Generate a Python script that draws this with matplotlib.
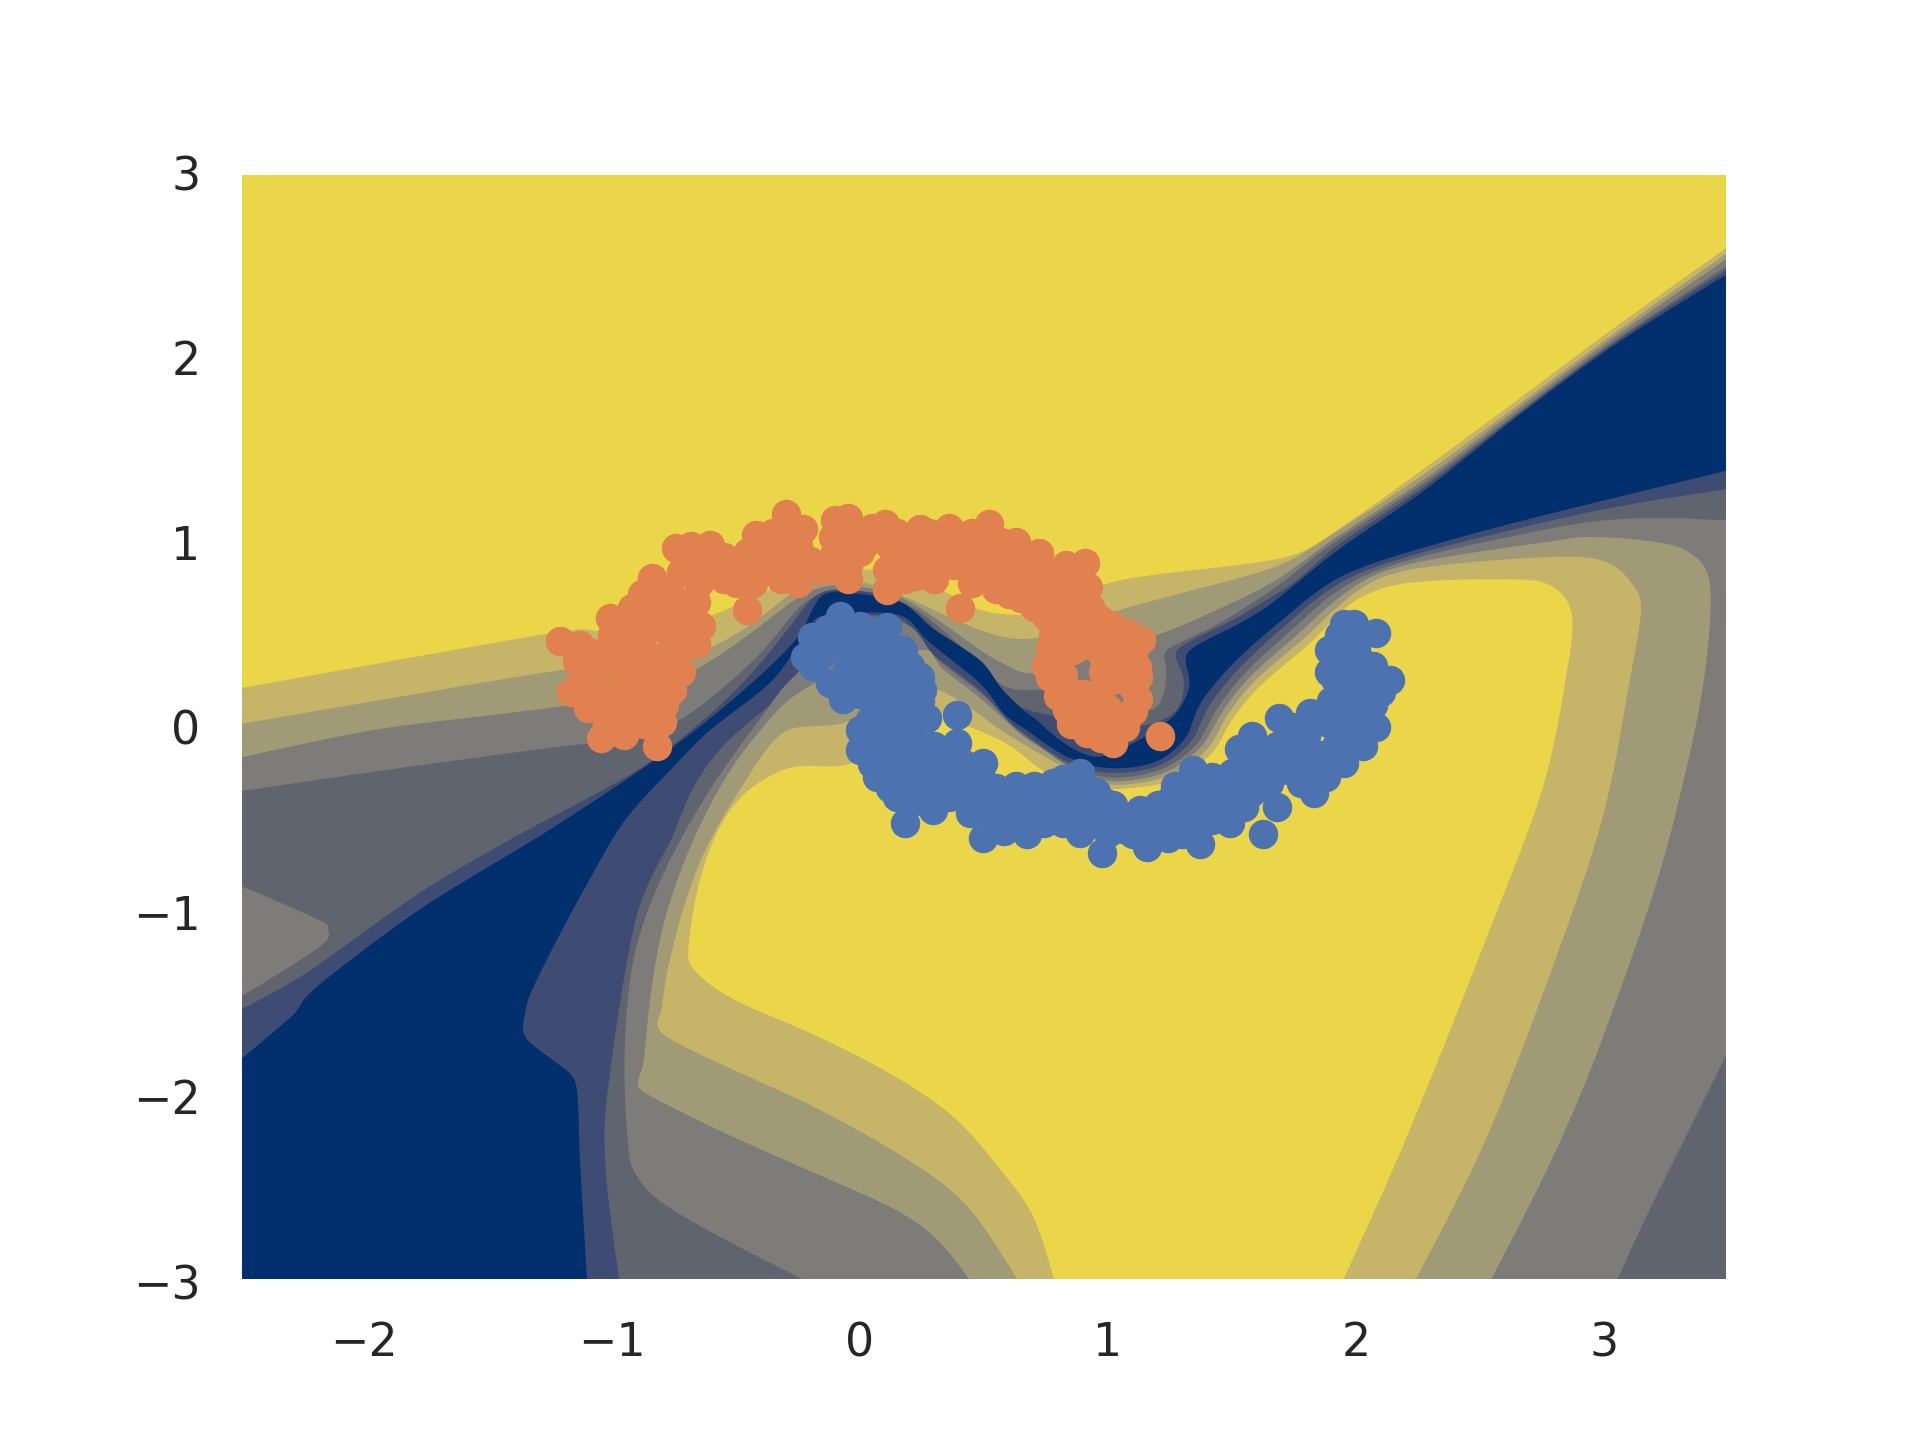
import numpy as np
import matplotlib
matplotlib.use("Agg")
import matplotlib.pyplot as plt
from matplotlib.patches import Rectangle

YELLOW = "#EBD64A"
TAN = "#C6B468"
KHAKI = "#A09A76"
GRAY = "#7E7C78"
SLATE = "#60646F"
NAVY = "#3E4C74"
DARK = "#02306F"
ORANGE = "#E0814F"
BLUE = "#4C72B0"

# contour bands above the ridge, each the top edge of a region
upper_tan = [(-2.5,.21),(-1.244,.51),(-1.06,.52),(-.645,.58),(-.215,.833),(.05,.85),(.28,.78),(.484,.634),(.75,.62),(1.0,.78),(1.344,.85),(1.72,.92),(1.927,1.07),(2.275,1.40),(2.62,1.74),(3.04,2.16),(3.5,2.6)]
upper_khaki = [(-2.5,.017),(-1.21,.31),(-.62,.42),(-.296,.707),(-.16,.797),(.027,.78),(.24,.67),(.484,.526),(.7,.48),(1.0,.616),(1.344,.743),(1.68,.87),(1.9,1.04),(2.275,1.37),(2.62,1.71),(3.04,2.13),(3.5,2.57)]
upper_gray = [(-2.5,-.165),(-1.92,-.005),(-1.23,.108),(-.75,.25),(-.4,.55),(-.2,.74),(0,.76),(.2,.68),(.45,.45),(.6,.33),(.75,.3),(1.18,.49),(1.41,.617),(1.68,.797),(1.9,1.01),(2.275,1.34),(2.62,1.69),(3.04,2.11),(3.5,2.54)]
upper_slate = [(-2.5,-.347),(-1.92,-.233),(-1.23,-.108),(-.95,-.06),(-.7,.06),(-.4,.4),(-.22,.68),(-.03,.74),(.2,.66),(.42,.42),(.55,.25),(.658,.2),(.9,.2),(1.18,.09),(1.236,.31),(1.236,.418),(1.425,.544),(1.68,.76),(1.9,.99),(2.275,1.32),(2.62,1.67),(3.04,2.09),(3.5,2.5)]
upper_navy = [(-2.5,-1.53),(-2.22,-1.32),(-1.77,-.89),(-1.305,-.53),(-.87,-.21),(-.5,.2),(-.28,.55),(-.17,.72),(-.03,.74),(.18,.67),(.4,.4),(.5,.28),(.62,.13),(.78,.06),(1.1,.0),(1.277,.093),(1.304,.274),(1.277,.418),(1.478,.562),(1.747,.78),(1.92,.98),(2.275,1.30),(2.62,1.66),(3.04,2.08),(3.5,2.48)]
upper_dark = [(-2.5,-1.80),(-2.28,-1.55),(-2.2,-1.415),(-1.77,-.98),(-1.305,-.60),(-.84,-.19),(-.53,.13),(-.26,.47),(-.16,.707),(-.027,.725),(.175,.67),(.282,.544),(.484,.364),(.564,.22),(.658,.093),(.712,.04),(.806,-.07),(.94,-.16),(1.075,-.105),(1.263,.057),(1.33,.238),(1.317,.40),(1.478,.526),(1.65,.66),(1.927,.96),(2.275,1.28),(2.62,1.65),(3.04,2.067),(3.5,2.455)]
island = [(-2.6,-.82),(-2.5,-.858),(-2.185,-1.04),(-2.146,-1.10),(-2.18,-1.19),(-2.5,-1.46),(-2.6,-1.52)]

# nested bands of the lower basin, each the outer edge of a region
lower_navy = [(-1.10,-3),(-1.13,-2.32),(-1.14,-1.98),(-1.18,-1.86),(-1.344,-1.69),(-1.35,-1.55),(-1.32,-1.415),(-1.21,-1.12),(-1.09,-.824),(-.95,-.506),(-.765,-.233),(-.596,-.005),(-.35,.255),(-.2,.55),(-.148,.6),(0,.62),(.175,.6),(.27,.47),(.484,.238),(.578,.075),(.672,-.015),(.806,-.14),(.94,-.21),(1.075,-.22),(1.21,-.177),(1.317,-.05),(1.37,.124),(1.51,.352),(1.72,.60),(1.927,.807),(2.2,.943),(2.62,1.10),(3.04,1.24),(3.5,1.39)]
lower_slate = [(-.97,-3),(-1.01,-2.6),(-1.03,-2.26),(-1.01,-1.89),(-.904,-1.03),(-.765,-.62),(-.67,-.32),(-.53,-.07),(-.3,.2),(-.15,.5),(0,.6),(.175,.58),(.25,.44),(.484,.2),(.6,.03),(.7,-.07),(.81,-.17),(.94,-.235),(1.075,-.245),(1.22,-.2),(1.34,-.07),(1.4,.1),(1.53,.32),(1.74,.58),(1.94,.785),(2.2,.92),(2.62,1.065),(3.04,1.19),(3.5,1.29)]
lower_gray = [(-.21,-3),(-.534,-2.78),(-.796,-2.575),(-.904,-2.42),(-.935,-2.26),(-.95,-1.8),(-.92,-1.30),(-.84,-.94),(-.72,-.60),(-.565,-.255),(-.38,.085),(-.27,.27),(0,.55),(.2,.55),(.3,.38),(.5,.17),(.62,0),(.72,-.1),(.83,-.2),(.95,-.26),(1.075,-.27),(1.23,-.22),(1.36,-.09),(1.43,.08),(1.55,.29),(1.76,.55),(1.95,.76),(2.2,.9),(2.62,1.03),(3.04,1.125),(3.55,1.125),(3.8,1.1),(3.8,-1.2),(3.6,-1.5),(3.49,-1.78),(3.31,-2.27),(3.17,-2.65),(3.05,-3)]
lower_khaki = [(.447,-3),(.314,-2.775),(.12,-2.594),(-.242,-2.378),(-.84,-2.0),(-.873,-1.825),(-.81,-1.165),(-.69,-.665),(-.534,-.256),(-.38,.017),(-.27,.165),(-.08,.3),(.25,.42),(.32,.33),(.5,.14),(.64,-.03),(.74,-.12),(.85,-.22),(.96,-.28),(1.075,-.29),(1.24,-.24),(1.38,-.1),(1.45,.06),(1.57,.27),(1.78,.52),(1.96,.73),(2.2,.88),(2.76,1.0),(2.95,1.03),(3.22,1.0),(3.36,.93),(3.43,.75),(3.4,.23),(3.31,-.35),(3.19,-.935),(2.95,-1.84),(2.75,-2.45),(2.54,-3)]
lower_tan = [(.64,-3),(.435,-2.594),(.169,-2.32),(-.242,-2.017),(-.765,-1.69),(-.80,-1.53),(-.75,-1.165),(-.64,-.71),(-.456,-.278),(-.296,-.015),(-.067,.02),(.2,.22),(.38,.16),(.55,0),(.67,-.1),(.76,-.17),(.87,-.25),(.97,-.3),(1.075,-.31),(1.25,-.26),(1.4,-.12),(1.47,.04),(1.59,.25),(1.8,.49),(1.97,.7),(2.2,.85),(2.76,.92),(3.0,.9),(3.11,.78),(3.15,.63),(3.1,.23),(3.02,-.35),(2.89,-.935),(2.59,-2.02),(2.41,-2.55),(2.236,-3)]
lower_yellow = [(.785,-3),(.70,-2.65),(.556,-2.378),(.362,-2.09),(.072,-1.837),(-.242,-1.63),(-.5,-1.48),(-.665,-1.32),(-.69,-1.165),(-.626,-.733),(-.49,-.39),(-.27,-.213),(-.027,-.195),(.2,.1),(.35,.05),(.58,-.08),(.7,-.2),(.8,-.28),(.98,-.33),(1.075,-.33),(1.26,-.29),(1.42,-.14),(1.49,.02),(1.61,.22),(1.82,.46),(1.98,.67),(2.2,.78),(2.61,.80),(2.78,.77),(2.87,.62),(2.85,.3),(2.76,-.3),(2.586,-.935),(2.32,-1.84),(2.13,-2.45),(1.945,-3)]

orange_points = [(-1.21,.465),(-1.13,.445),(-1.165,.19),(-1.095,.105),(-1.045,-.06),(-.95,-.04),(-.82,-.10),(-1.01,.59),(-.92,.645),(-.84,.806),(-.74,.968),(-.605,.986),(-.457,.634),(-.3,1.155),(-.23,1.07),
 (-1.08,.3),(-1.02,.4),(-1.0,.2),(-.98,.05),(-.95,.5),(-.92,.3),(-.9,.12),(-.88,.42),(-.87,.02),(-.85,.6),(-.83,.22),(-.8,.38),(-.78,.52),(-.79,.12),(-.75,.7),(-.72,.3),(-.7,.45),(-.68,.6),(-.65,.78),(-.64,.55),(-.6,.85),(-.55,.8),(-.5,.9),(-.45,.95),(-.42,.82),(-.38,.98),(-.35,1.05),(-.32,.8),(-.28,.88),(-.2,.9),(-.25,.78),
 (-.1,1.12),(-.05,1.13),(-.03,1.03),(.05,1.08),(.1,1.1),(-.1,.95),(-.05,.88),(-.05,.8),(.03,1.0),(.12,.98),(.11,.85),(.11,.745),(.18,.9),(.2,1.0),(.24,1.07),(.28,.9),(.3,.8),(.33,1.0),(.36,1.08),(.42,.95),(.38,.88),(.403,.643),(.45,.85),
 (.45,1.05),(.52,1.1),(.52,.98),(.5,.85),(.57,.92),(.55,.75),(.6,.82),(.63,1.0),(.65,.7),(.68,.85),(.72,.94),(.72,.72),(.75,.6),(.78,.8),(.8,.66),(.83,.88),(.85,.72),(.907,.887),(.92,.76),(.93,.64),(.78,.5),(.766,.418),(.766,.274),(.82,.46),(.88,.5),(.92,.45),(.97,.5),(1.02,.55),(1.075,.508),(1.135,.47),(1.1,.4),(1.115,.328),(1.05,.38),(.98,.3),(.82,.28),
 (.83,.2),(.833,.093),(.9,.18),(.97,.2),(1.04,.26),(1.1,.22),(1.0,.1),(.914,.07),(.914,-.033),(1.02,-.087),(1.0,.02),(1.1,.09),(1.03,.04),(1.21,-.05),
 (-1.12,.3),(-1.06,.22),(-1.05,.12),(-1.02,.02),(-1.08,.4),(-1.14,.36),(-1.0,.5),(-.97,.35),(-.96,.13),(-.93,.22),(-.9,.03),(-.88,.5),(-.85,.7),(-.87,.32),(-.84,.12),(-.8,.03),(-.78,.28),(-.76,.2),(-.74,.4),(-.76,.6),(-.72,.52),(-.66,.45),(-.7,.66),(-.72,.84),(-.67,.9),(-.66,.68),(-.9,.55),(-.8,.74),(-.8,.62),(-.88,.72),(-.68,.98),(-.55,.92),(-.5,.85),(-.45,.88),(-.4,.9),(-.35,.92),(-.3,1.0),(-.25,.98),(-.42,1.04),(-.43,.78),(-.5,.78),
 (-.15,.85),(0,.95),(-.11,1.03),(.15,1.05),(.18,.8),(.22,.82),(.25,.98),(.32,.9),(.28,1.05),(.37,.97),(.4,1.03),(.48,.95),(.45,.78),(.57,1.0),(.6,.9),(.65,.92),(.67,.78),(.6,.72),(.74,.83),(.84,.8),(.88,.66),(.75,.67),(.7,.65),(.83,.56),(.88,.58),(.97,.58),(.75,.33),(.81,.38),(.86,.42),(.97,.4),(1.0,.45),(1.06,.45),(1.0,.35),(1.05,.3),(1.12,.27),(1.12,.15),(.85,.02),(.8,.17),(.97,.12),(.95,0),(1.07,0),(.97,-.06),(.88,.12)]

blue_points = [(-.08,.6),(0,.55),(.05,.52),(.107,.54),(.175,.42),(-.195,.49),(-.22,.38),(-.15,.4),(-.08,.45),(0,.42),(.08,.42),(.12,.32),(.2,.33),(.24,.27),(-.19,.33),(-.12,.24),(-.05,.32),(.03,.3),(.1,.2),(.18,.2),(-.07,.15),(0,.18),(.07,.1),(.15,.08),(.24,.14),(.27,.05),(0,-.015),(.08,0),(.16,-.03),(.22,-.08),(.3,-.1),(.39,.066),(.39,-.087),(0,-.123),(.08,-.12),(.15,-.17),(.067,-.27),(.13,-.27),(.2,-.25),(.28,-.2),(.148,-.376),(.22,-.37),(.29,-.3),(.36,-.25),(.18,-.52),(.296,-.45),(.36,-.38),(.44,-.32),
 (.497,-.195),(.5,-.3),(.56,-.4),(.63,-.32),(.68,-.42),(.75,-.35),(.8,-.45),(.85,-.33),(.887,-.25),(.92,-.42),(.99,-.41),(.95,-.52),(.887,-.574),(1.05,-.5),(1.13,-.45),(1.1,-.58),(1.156,-.646),(1.2,-.5),(1.25,-.394),(1.28,-.53),(1.37,-.63),(1.344,-.23),(1.35,-.45),(1.4,-.34),(1.42,-.5),(1.49,-.52),(1.48,-.38),(1.55,-.3),(1.53,-.12),(1.6,-.2),(1.68,-.43),(1.626,-.58),(1.65,-.3),(1.69,.05),(1.72,-.1),(1.75,-.22),(1.8,-.05),(1.83,-.358),(1.85,-.15),(1.815,.075),(1.9,.02),(1.95,-.195),(1.97,-.05),(2.03,-.1),(2.08,0),(2.0,.1),(2.07,.12),(2.137,.256),(2.07,.25),(1.9,.14),(1.98,.22),(1.89,.3),(1.96,.32),(2.03,.35),(1.89,.42),(1.96,.43),(1.99,.56),(2.08,.508),(1.93,.5),
 (.74,-.52),(.672,-.58),(.6,-.5),(.55,-.52),(.497,-.6),(.443,-.466),(.974,-.68),(.82,-.52),
 (-.13,.53),(.03,.47),(.1,.48),(.15,.36),(-.02,.25),(.05,.22),(.12,.14),(.2,.12),(.2,.02),(.1,.05),(.04,.04),(.1,-.06),(.05,-.2),(.2,-.14),(.27,-.13),(.12,-.33),(.2,-.3),(.25,-.4),(.32,-.37),(.25,.2),(.33,-.2),(.42,-.2),
 (.55,-.33),(.7,-.32),(.78,-.3),(.82,-.28),(.9,-.32),(.88,-.42),(.76,-.43),(.71,-.5),(.64,-.42),(.58,-.46),(.47,-.38),(.52,-.44),(.83,-.38),(.95,-.35),(.98,-.47),(1.02,-.42),(1.06,-.55),(1.0,-.57),(1.14,-.54),(1.2,-.42),(1.2,-.58),(1.24,-.6),(1.3,-.44),(1.32,-.32),(1.3,-.58),(1.36,-.55),(1.27,-.32),(1.42,-.27),(1.44,-.42),(1.5,-.25),(1.55,-.43),(1.58,-.35),(1.62,-.13),(1.58,-.05),(1.68,-.1),(1.7,-.23),(1.74,0),(1.78,-.12),(1.78,-.3),(1.88,-.27),(1.83,-.22),(1.92,-.1),(1.88,.03),(1.95,.03),(2.02,.02),(2.04,.2),(1.94,.13),(2.0,.27),(2.1,.19),(2.07,.33),(1.92,.25),(1.92,.38),(2.0,.48),(2.0,.42),(1.95,.56),(.58,-.56)]

x_ticks = [-2, -1, 0, 1, 2, 3]
y_ticks = [-3, -2, -1, 0, 1, 2, 3]


def smooth(path):
    pts = np.asarray(path, dtype=float)
    for _ in range(2):
        ext = np.vstack([2 * pts[0] - pts[1], pts, 2 * pts[-1] - pts[-2]])
        mids = (9 * (ext[1:-2] + ext[2:-1]) - ext[:-3] - ext[3:]) / 16
        out = np.empty((2 * len(pts) - 1, 2))
        out[0::2] = pts
        out[1::2] = mids
        pts = out
    a, b = pts[:-1], pts[1:]
    mid = np.empty((2 * len(a), 2))
    mid[0::2] = .75 * a + .25 * b
    mid[1::2] = .25 * a + .75 * b
    return np.vstack([pts[:1], mid, pts[-1:]])


fig, ax = plt.subplots(figsize=(6.4, 4.8), dpi=300)
fig.subplots_adjust(left=.125, right=.9, top=.88, bottom=.11)
ax.patch.set_visible(False)
ax.set_xlim(-2.5, 3.5)
ax.set_ylim(-3, 3)
frame = Rectangle((-2.49, -2.987), 5.98, 5.974, transform=ax.transData, fc=YELLOW, lw=0, zorder=0)
ax.add_patch(frame)


def region(path, color, closing):
    pts = np.vstack([smooth(path), np.asarray(closing, dtype=float)])
    for poly in ax.fill(pts[:, 0], pts[:, 1], color=color, lw=0, zorder=1):
        poly.set_clip_path(frame)


under = [(3.7, -3.3), (-2.7, -3.3)]
for path, color in [(upper_tan, TAN), (upper_khaki, KHAKI), (upper_gray, GRAY),
                    (upper_slate, SLATE), (upper_navy, NAVY), (upper_dark, DARK)]:
    region(path, color, under)

region(island, GRAY, [(-2.7, -1.2)])

region(lower_navy, NAVY, [(3.7, 1.39), (3.7, -3.3), (-1.10, -3.3)])
region(lower_slate, SLATE, [(3.7, 1.29), (3.7, -3.3), (-.97, -3.3)])
for path, color in [(lower_gray, GRAY), (lower_khaki, KHAKI), (lower_tan, TAN), (lower_yellow, YELLOW)]:
    region(path, color, [(path[-1][0], -3.3), (path[0][0], -3.3)])

for pts, color in [(orange_points, ORANGE), (blue_points, BLUE)]:
    xy = np.asarray(pts)
    ax.scatter(xy[:, 0], xy[:, 1], s=50, c=color, linewidths=0, zorder=3)

ax.set_xticks(x_ticks)
ax.set_yticks(y_ticks)
ax.tick_params(length=0, labelsize=11, labelcolor=".15", pad=9.5)
for s in ax.spines.values():
    s.set_visible(False)

fig.savefig("out.png", dpi=300)
